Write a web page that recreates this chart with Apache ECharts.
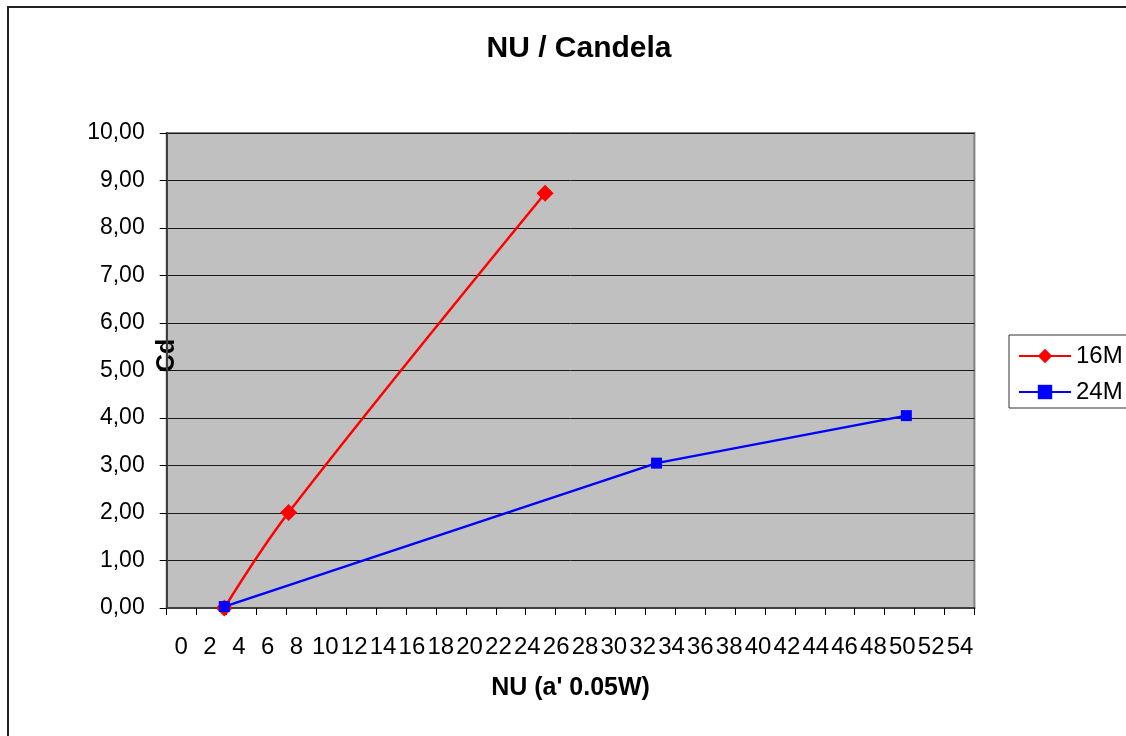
<!DOCTYPE html>
<html>
<head>
<meta charset="utf-8">
<script src="https://cdn.jsdelivr.net/npm/echarts@6/dist/echarts.min.js"></script>
<style>
  html, body { margin: 0; padding: 0; background: #fff; }
  #chart { width: 1126px; height: 736px; }
</style>
</head>
<body>
<div id="chart"></div>
<script>
// NU power setting (x) against luminous intensity in candela (y)
const seriesNames = ['16M', '24M'];
const nu16 = [3.85, 8.15, 25.3];
const cd16 = [0.00, 2.01, 8.73];
const nu24 = [3.85, 32.75, 49.45];
const cd24 = [0.03, 3.05, 4.05];
const xTickLabels = ['0', '2', '4', '6', '8', '10', '12', '14', '16', '18', '20', '22', '24', '26',
  '28', '30', '32', '34', '36', '38', '40', '42', '44', '46', '48', '50', '52', '54'];

const FONT = '"Liberation Sans", Arial, sans-serif';

function pairs(xs, ys) {
  return xs.map((x, i) => [x, ys[i]]);
}

const chart = echarts.init(document.getElementById('chart'), null, { renderer: 'canvas' });

chart.setOption({
  backgroundColor: '#ffffff',
  animation: false,
  textStyle: { fontFamily: FONT },
  graphic: [{
    type: 'rect',
    shape: { x: 8, y: 7, width: 1300, height: 900 },
    style: { fill: 'none', stroke: '#222', lineWidth: 2 },
    silent: true,
    z: -1
  }],
  title: {
    text: 'NU / Candela',
    left: 574,
    top: 29,
    textAlign: 'center',
    textStyle: { fontFamily: FONT, fontSize: 30, fontWeight: 'bold', color: '#000' }
  },
  legend: {
    data: seriesNames,
    orient: 'vertical',
    left: 1009,
    top: 335,
    itemWidth: 52,
    itemHeight: 18,
    itemGap: 12,
    padding: [9, 14, 4, 9],
    borderColor: '#333',
    borderWidth: 1,
    backgroundColor: '#fff',
    textStyle: { fontFamily: FONT, fontSize: 24, color: '#000' }
  },
  grid: {
    left: 166.7,
    right: 151.6,
    top: 133,
    bottom: 128,
    show: true,
    backgroundColor: '#c0c0c0',
    borderColor: '#808080',
    borderWidth: 2
  },
  xAxis: [{
    type: 'value',
    min: 0,
    max: 54,
    interval: 2,
    position: 'bottom',
    name: "NU (a' 0.05W)",
    nameLocation: 'middle',
    nameGap: 68,
    nameMoveOverlap: false,
    nameTextStyle: { fontFamily: FONT, fontSize: 25, fontWeight: 'bold', color: '#000' },
    axisLine: { show: true, onZero: false, lineStyle: { color: '#404040', width: 2 } },
    axisTick: { show: true, length: 7, lineStyle: { color: '#000', width: 1 } },
    axisLabel: { show: false },
    splitLine: { show: false }
  }, {
    type: 'category',
    data: xTickLabels,
    position: 'bottom',
    boundaryGap: true,
    axisLine: { show: false },
    axisTick: { show: false },
    axisLabel: {
      interval: 0,
      margin: 27,
      fontFamily: FONT,
      fontSize: 24,
      color: '#000'
    },
    splitLine: { show: false }
  }],
  yAxis: {
    type: 'value',
    min: 0,
    max: 10,
    interval: 1,
    name: 'Cd',
    nameLocation: 'middle',
    nameRotate: 90,
    nameGap: -13,
    nameMoveOverlap: false,
    nameTextStyle: {
      fontFamily: FONT, fontSize: 25, fontWeight: 'bold', color: '#000',
      padding: [0, 0, 0, 30]
    },
    axisLine: { show: true, lineStyle: { color: '#404040', width: 2 } },
    axisTick: { show: true, length: 7, lineStyle: { color: '#000', width: 1 } },
    axisLabel: {
      margin: 22,
      fontFamily: FONT,
      fontSize: 23,
      color: '#000',
      formatter: v => v.toFixed(2).replace('.', ',')
    },
    splitLine: { show: true, lineStyle: { color: '#1a1a1a', width: 1 } }
  },
  series: [{
    name: seriesNames[0],
    type: 'line',
    xAxisIndex: 0,
    data: pairs(nu16, cd16),
    smooth: 0.35,
    symbol: 'diamond',
    symbolSize: 17,
    lineStyle: { color: '#ff0000', width: 2.5 },
    itemStyle: { color: '#ff0000' },
    z: 3
  }, {
    name: seriesNames[1],
    type: 'line',
    xAxisIndex: 0,
    data: pairs(nu24, cd24),
    symbol: 'rect',
    symbolSize: 11,
    lineStyle: { color: '#0000ff', width: 2.5 },
    itemStyle: { color: '#0000ff' },
    z: 4
  }]
});
</script>
</body>
</html>
